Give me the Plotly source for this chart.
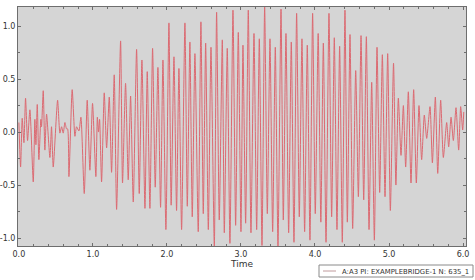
import plotly.graph_objects as go

# Local extrema of the signal (time, value)
times = [0.0, 0.023, 0.045, 0.068, 0.09, 0.117, 0.149, 0.194, 0.216, 0.23, 0.248, 0.27,
         0.297, 0.306, 0.329, 0.351, 0.374, 0.419, 0.441, 0.464, 0.523, 0.554, 0.577,
         0.599, 0.622, 0.644, 0.658, 0.676, 0.72, 0.757, 0.779, 0.811, 0.838, 0.883,
         0.923, 0.959, 0.995, 1.04, 1.06, 1.075, 1.09, 1.117, 1.153, 1.185, 1.221, 1.252,
         1.288, 1.32, 1.374, 1.4, 1.441, 1.477, 1.509, 1.545, 1.59, 1.626, 1.662, 1.703,
         1.734, 1.77, 1.806, 1.842, 1.878, 1.914, 1.946, 1.986, 2.027, 2.057, 2.095,
         2.13, 2.162, 2.198, 2.243, 2.275, 2.31, 2.342, 2.378, 2.423, 2.459, 2.491,
         2.523, 2.559, 2.595, 2.64, 2.671, 2.707, 2.748, 2.775, 2.815, 2.851, 2.892,
         2.928, 2.964, 3.0, 3.027, 3.063, 3.099, 3.135, 3.176, 3.212, 3.248, 3.284,
         3.32, 3.356, 3.392, 3.428, 3.464, 3.5, 3.541, 3.572, 3.608, 3.644, 3.68,
         3.716, 3.752, 3.788, 3.824, 3.86, 3.896, 3.932, 3.968, 4.004, 4.043, 4.079,
         4.113, 4.149, 4.189, 4.225, 4.261, 4.297, 4.333, 4.369, 4.405, 4.437, 4.473,
         4.509, 4.55, 4.586, 4.622, 4.658, 4.694, 4.73, 4.766, 4.802, 4.838, 4.874,
         4.91, 4.946, 4.982, 5.018, 5.061, 5.093, 5.126, 5.162, 5.194, 5.225, 5.261,
         5.297, 5.333, 5.369, 5.405, 5.441, 5.477, 5.509, 5.554, 5.586, 5.626, 5.658,
         5.698, 5.734, 5.779, 5.806, 5.838, 5.869, 5.905, 5.941, 5.968, 5.995, 6.01]
values = [0.09, -0.33, 0.13, -0.10, 0.32, -0.08, 0.21, -0.47, 0.12, -0.12, 0.26, -0.26,
          0.12, 0.05, 0.39, -0.17, 0.17, -0.24, 0.05, -0.33, 0.30, -0.01, 0.05,
          -0.01, 0.09, 0.03, 0.03, -0.42, 0.40, -0.04, 0.05, 0.01, 0.14, -0.58,
          0.30, -0.36, 0.27, -0.42, 0.14, 0.00, 0.12, -0.47, 0.37, -0.15, 0.33, -0.38,
          0.54, -0.73, 0.86, -0.48, 0.46, -0.45, 0.34, -0.66, 0.78, -0.58, 0.68, -0.72,
          0.57, -0.72, 0.79, -0.52, 0.61, -0.71, 0.68, -0.92, 1.03, -0.69, 0.71,
          -0.74, 0.60, -0.92, 1.03, -0.70, 0.85, -0.80, 0.74, -0.94, 1.04, -0.77,
          0.84, -0.92, 0.80, -1.08, 1.13, -0.83, 0.87, -0.95, 0.79, -1.05, 1.15,
          -0.88, 0.94, -0.94, 0.82, -0.86, 1.15, -0.95, 0.93, -0.92, 0.88, -1.07,
          1.18, -0.77, 0.88, -0.94, 0.80, -1.08, 1.16, -0.83, 0.93, -0.95, 0.85,
          -1.04, 1.12, -0.80, 0.88, -0.94, 0.82, -1.02, 1.12, -0.77, 0.93, -0.85,
          0.84, -1.04, 1.12, -0.80, 0.89, -0.92, 0.81, -1.04, 1.15, -0.85, 0.92,
          -0.91, 0.58, -0.61, 0.91, -0.64, 0.90, -0.92, 0.47, -1.02, 0.80, -0.57,
          0.73, -0.61, 0.74, -0.74, 0.65, -0.50, 0.32, -0.22, 0.25, -0.33, 0.38,
          -0.48, 0.40, -0.48, 0.25, -0.26, 0.16, -0.06, 0.24, -0.29, 0.33, -0.39,
          0.30, -0.24, 0.09, -0.14, 0.14, -0.08, 0.23, -0.17, 0.24, 0.02, 0.19]

series_name = "A:A3 PI: EXAMPLEBRIDGE-1 N: 635_1"
x_ticks = [0, 1, 2, 3, 4, 5, 6]
y_ticks = [-1.0, -0.5, 0.0, 0.5, 1.0]

fig = go.Figure()
fig.add_trace(go.Scatter(
    x=times, y=values, mode="lines", name=series_name,
    line=dict(color="#dc6a72", width=1, shape="spline", smoothing=0.6),
    showlegend=False, hoverinfo="skip",
))

axis_common = dict(
    showgrid=False, zeroline=False, showline=True, linecolor="#6e6e6e",
    linewidth=1, mirror="ticks", ticks="inside", ticklen=3, tickcolor="#6e6e6e",
    tickfont=dict(family="DejaVu Sans", size=8, color="#333333"),
)
fig.update_xaxes(
    range=[-0.012, 6.04], tickvals=x_ticks, ticktext=[f"{v:.1f}" for v in x_ticks],
    title=dict(text="Time", font=dict(family="DejaVu Sans", size=9, color="#333333"), standoff=0),
    minor=dict(dtick=0.2, ticks="inside", ticklen=2, tickcolor="#6e6e6e"),
    **axis_common,
)
fig.update_yaxes(
    range=[-1.075, 1.18], tickvals=y_ticks, ticktext=[f"{v:.1f}" for v in y_ticks],
    minor=dict(dtick=0.25, ticks="inside", ticklen=2, tickcolor="#6e6e6e"),
    **axis_common,
)

# Legend box drawn as shapes + a text annotation (compact, like the reference)
W, H, L, T = 475, 280, 18, 7
PW, PH = W - L - 9, H - T - 34
def px(xp):
    return (xp - L) / PW
def py(yp):
    return (T + PH - yp) / PH

fig.add_shape(type="rect", xref="paper", yref="paper",
              x0=px(319), x1=px(473), y0=py(265), y1=py(277),
              line=dict(color="#8a8a8a", width=1), fillcolor="white", layer="above")
fig.add_shape(type="line", xref="paper", yref="paper",
              x0=px(323), x1=px(336), y0=py(271), y1=py(271),
              line=dict(color="#c09a9c", width=1), layer="above")
fig.add_annotation(xref="paper", yref="paper", x=px(471), y=py(271.5),
                   xanchor="right", yanchor="middle", showarrow=False,
                   text=series_name,
                   font=dict(family="DejaVu Sans", size=6.9, color="#333333"))

fig.update_layout(
    width=W, height=H,
    margin=dict(l=L, r=9, t=T, b=34, autoexpand=False),
    paper_bgcolor="white", plot_bgcolor="#d5d5d5",
    font=dict(family="DejaVu Sans", size=8, color="#333333"),
    showlegend=False,
)
fig.write_html("out.html")
